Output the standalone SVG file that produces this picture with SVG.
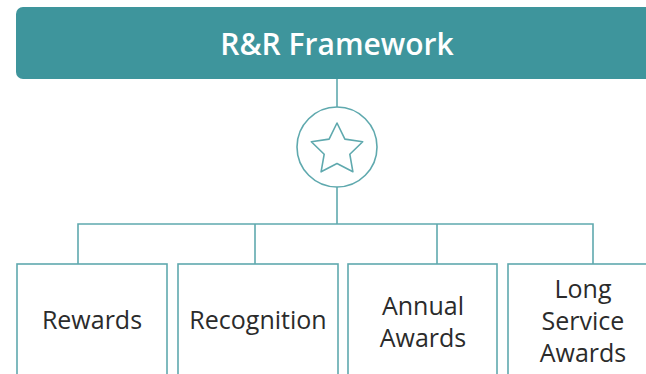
<svg xmlns="http://www.w3.org/2000/svg" width="646" height="374" viewBox="0 0 646 374">
  <style>
    .line { fill: none; stroke: #5fa9ae; stroke-width: 1.6; }
    .box { fill: #ffffff; stroke: #5fa9ae; stroke-width: 1.6; }
    .label { font-family: "Open Sans", "Liberation Sans", sans-serif; font-size: 25px; fill: #2b2b2b; text-anchor: middle; }
    .title { font-family: "Open Sans", "Liberation Sans", sans-serif; font-size: 30px; font-weight: 600; fill: #ffffff; text-anchor: middle; }
  </style>
  <rect width="646" height="374" fill="#ffffff"/>

  <g id="connectors">
    <line class="line" x1="337" y1="79" x2="337" y2="107"/>
    <line class="line" x1="337" y1="187" x2="337" y2="224"/>
    <polyline class="line" points="78,264 78,224 593,224 593,264"/>
    <line class="line" x1="255" y1="224" x2="255" y2="264"/>
    <line class="line" x1="437" y1="224" x2="437" y2="264"/>
  </g>

  <g id="header">
    <rect x="16" y="7" width="650" height="72" rx="7" fill="#3e959c"/>
    <text class="title" x="337" y="55">R&amp;R Framework</text>
  </g>

  <g id="star-icon">
    <circle class="line" cx="337" cy="147" r="40"/>
    <polygon class="line" stroke-linejoin="round" points="337.0,123.0 344.9,139.1 362.7,141.7 349.8,154.2 352.9,171.8 337.0,163.5 321.1,171.8 324.2,154.2 311.3,141.7 329.1,139.1"/>
  </g>

  <g id="rewards">
    <rect class="box" x="17" y="264" width="150" height="130"/>
    <text class="label" x="92" y="329">Rewards</text>
  </g>

  <g id="recognition">
    <rect class="box" x="178" y="264" width="160" height="130"/>
    <text class="label" x="258" y="329">Recognition</text>
  </g>

  <g id="annual-awards">
    <rect class="box" x="348" y="264" width="149" height="130"/>
    <text class="label" x="423" y="315">Annual</text>
    <text class="label" x="423" y="347">Awards</text>
  </g>

  <g id="long-service-awards">
    <rect class="box" x="508" y="264" width="150" height="130"/>
    <text class="label" x="583" y="298">Long</text>
    <text class="label" x="583" y="330">Service</text>
    <text class="label" x="583" y="362">Awards</text>
  </g>
</svg>
